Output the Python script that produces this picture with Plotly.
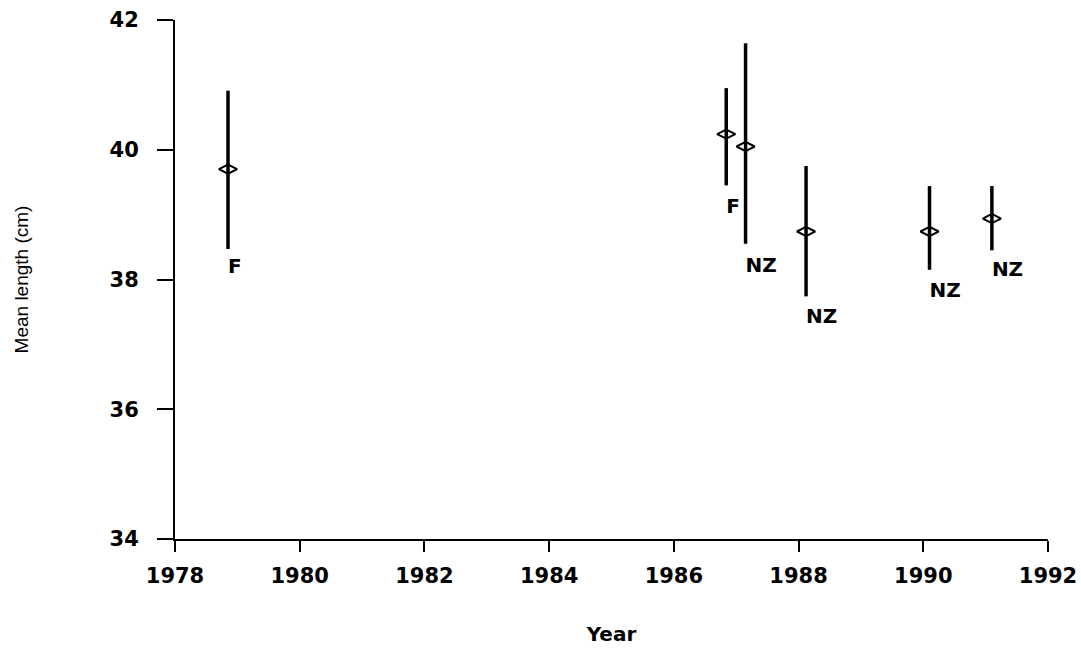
import plotly.graph_objects as go

years = [1978.85, 1986.84, 1987.15, 1988.12, 1990.10, 1991.10]
means = [39.70, 40.24, 40.05, 38.74, 38.74, 38.94]
upper = [40.91, 40.95, 41.64, 39.75, 39.44, 39.44]
lower = [38.47, 39.45, 38.55, 37.74, 38.15, 38.45]
labels = ["F", "F", "NZ", "NZ", "NZ", "NZ"]
label_y = [38.18, 39.10, 38.20, 37.40, 37.80, 38.13]

err_plus = [u - m for u, m in zip(upper, means)]
err_minus = [m - l for m, l in zip(means, lower)]

WIDE = "DejaVu Sans, Verdana, sans-serif"

fig = go.Figure()
fig.add_trace(go.Scatter(
    x=years, y=means, mode="markers",
    marker=dict(symbol="diamond-wide-open", size=13, color="black",
                line=dict(width=2, color="black")),
    error_y=dict(type="data", symmetric=False, array=err_plus,
                 arrayminus=err_minus, thickness=3.5, width=0, color="black"),
    showlegend=False, hoverinfo="skip",
))
fig.add_trace(go.Scatter(
    x=years, y=label_y, mode="text", text=labels,
    textposition="middle right",
    textfont=dict(family=WIDE, size=20, color="black", weight="bold"),
    showlegend=False, hoverinfo="skip",
))

tick_font = dict(family=WIDE, size=21, color="black", weight="bold")

fig.update_layout(
    width=1081, height=649,
    margin=dict(l=175, r=33, t=20, b=110, autoexpand=False),
    paper_bgcolor="white", plot_bgcolor="white",
    xaxis=dict(range=[1978, 1992], tickvals=list(range(1978, 1993, 2)),
               automargin=False,
               showgrid=False, zeroline=False, showline=True,
               linecolor="black", linewidth=2, ticks="outside",
               ticklen=11, tickwidth=2, tickcolor="black",
               tickfont=tick_font, ticklabelstandoff=6,
               title=dict(text="Year", standoff=40,
                          font=dict(family=WIDE, size=20, color="black",
                                    weight="bold"))),
    yaxis=dict(range=[34, 42], tickvals=[34, 36, 38, 40, 42],
               automargin=False,
               showgrid=False, zeroline=False, showline=True,
               linecolor="black", linewidth=2, ticks="outside",
               ticklen=16, tickwidth=2, tickcolor="black",
               tickfont=tick_font, ticklabelstandoff=14,
               title=dict(text="Mean length (cm)", standoff=76,
                          font=dict(family="Liberation Sans, Arial, sans-serif",
                                    size=19, color="black"))),
)

fig.write_html("out.html")
